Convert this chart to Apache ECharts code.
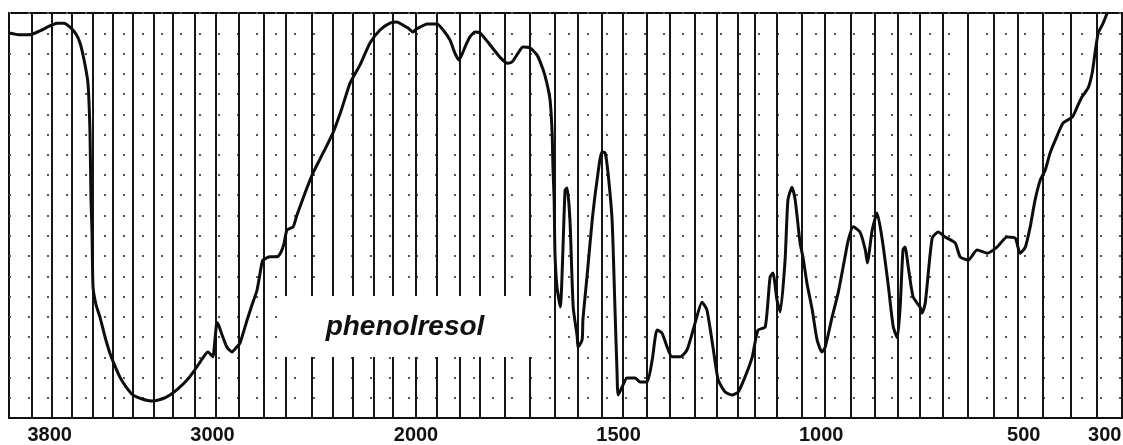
<!DOCTYPE html>
<html>
<head>
<meta charset="utf-8">
<script src="https://cdn.jsdelivr.net/npm/echarts@6/dist/echarts.min.js"></script>
<style>
html, body { margin: 0; padding: 0; background: #fff; }
#chart { width: 1123px; height: 445px; }
</style>
</head>
<body>
<div id="chart"></div>
<script>
// IR spectrum: wavenumber (cm-1) and transmittance (%)
const wavenumbers = [
    4000, 3946, 3897, 3848, 3799, 3764, 3730, 3700, 3671, 3651, 3631, 3612, 3602, 3597, 3592, 3587,
    3572, 3553, 3528, 3504, 3479, 3455, 3425, 3391, 3346, 3297, 3248, 3209, 3170, 3125, 3091, 3061,
    3037, 3022, 3007, 2998, 2988, 2978, 2968, 2948, 2929, 2904, 2885, 2865, 2830, 2806, 2781, 2762,
    2752, 2717, 2683, 2663, 2649, 2634, 2604, 2585, 2545, 2506, 2457, 2408, 2364, 2324, 2275, 2226,
    2177, 2128, 2093, 2064, 2039, 2015, 2000, 1990, 1973, 1948, 1933, 1916, 1904, 1894, 1879, 1867,
    1854, 1842, 1817, 1793, 1775, 1763, 1748, 1736, 1719, 1701, 1686, 1677, 1669, 1664, 1662, 1659,
    1657, 1652, 1644, 1632, 1627, 1620, 1612, 1602, 1600, 1590, 1588, 1578, 1565, 1553, 1541, 1533,
    1526, 1516, 1509, 1504, 1501, 1491, 1479, 1459, 1447, 1430, 1417, 1405, 1393, 1380, 1368, 1348,
    1331, 1311, 1294, 1282, 1267, 1254, 1237, 1220, 1205, 1188, 1170, 1156, 1138, 1126, 1119, 1109,
    1101, 1089, 1082, 1072, 1064, 1052, 1045, 1035, 1022, 1010, 998, 990, 973, 958, 941, 933,
    921, 904, 891, 886, 874, 862, 849, 835, 822, 812, 805, 798, 793, 785, 773, 756,
    751, 743, 726, 711, 694, 669, 657, 637, 615, 590, 566, 541, 521, 509, 496, 484,
    472, 459, 447, 435, 422, 403, 380, 368, 356, 341, 331, 324, 316, 304, 294
]
const transmittance = [
    95.1, 94.6, 94.6, 95.6, 96.8, 97.5, 97.5, 96.5, 94.8, 92.6, 88.4, 82.7, 70.4, 53.8, 45.7, 32.3,
    27.9, 24.9, 20.0, 16.0, 12.8, 10.1, 7.7, 5.7, 4.7, 4.2, 4.7, 5.7, 7.2, 9.4, 11.6, 13.8,
    15.6, 16.3, 15.6, 15.1, 19.3, 23.5, 22.7, 19.8, 17.5, 16.3, 17.3, 18.5, 24.2, 27.9, 31.6, 37.0,
    39.0, 39.8, 39.8, 41.0, 43.0, 46.4, 47.2, 50.1, 55.6, 60.5, 65.4, 70.4, 76.5, 82.7, 87.2, 92.6,
    95.8, 97.5, 97.8, 97.0, 96.3, 95.3, 96.0, 96.5, 97.3, 97.3, 95.8, 93.3, 90.1, 88.4, 91.6, 94.1,
    95.3, 95.1, 92.1, 89.1, 87.6, 87.9, 90.1, 91.6, 91.4, 89.6, 85.9, 82.7, 78.5, 70.4, 62.0, 53.8,
    40.7, 32.3, 27.4, 56.3, 56.8, 48.9, 27.4, 20.0, 17.5, 19.3, 24.2, 34.8, 48.9, 58.8, 65.7, 65.4,
    60.5, 48.9, 27.4, 11.9, 5.7, 7.7, 9.9, 9.9, 8.9, 8.9, 14.3, 21.7, 21.0, 17.5, 15.1, 15.1,
    16.8, 23.5, 28.6, 26.7, 17.5, 9.4, 6.4, 5.7, 6.4, 10.1, 15.1, 21.7, 22.5, 34.8, 35.8, 29.1,
    26.2, 39.0, 53.8, 57.0, 53.8, 43.2, 39.8, 33.3, 26.7, 19.3, 16.3, 17.5, 24.9, 30.9, 39.8, 43.9,
    47.2, 45.9, 41.5, 38.3, 46.4, 50.6, 43.9, 33.3, 22.5, 19.8, 27.4, 41.5, 42.2, 37.3, 29.9, 27.4,
    25.9, 28.4, 44.4, 45.9, 44.7, 43.2, 39.8, 39.0, 41.5, 40.7, 42.2, 44.7, 44.4, 40.7, 42.2, 47.2,
    53.8, 58.8, 61.2, 65.4, 68.6, 72.8, 74.3, 76.8, 79.3, 81.5, 85.2, 90.1, 95.1, 97.5, 100
]

// chart paper: the vertical ruled lines (in cm-1) and the printed tick labels
const paperLinesHigh = [3890, 3790, 3690, 3590, 3490, 3390, 3290, 3195, 3085, 2985, 2870, 2750, 2640, 2510, 2410, 2310, 2210, 2115, 2000]
const paperLinesLow = [1948, 1891, 1842, 1780, 1719, 1657, 1600, 1541, 1489, 1430, 1373, 1311, 1257, 1205, 1163, 1109, 1047, 990, 928, 867, 812, 756, 699, 637, 575, 514, 452, 385, 319, 257]
const labelsHigh = [3800, 3000]
const labelsLow = [2000, 1500, 1000, 500, 300]
const sampleName = 'phenolresol'

const points = wavenumbers.map((w, i) => [w, transmittance[i]])
const pointsHigh = points.filter(p => p[0] >= 2000)
const pointsLow = points.filter(p => p[0] <= 2000)

const chartInstance = echarts.init(document.getElementById('chart'))

function xAxisFor(gridIndex, min, max, labels) {
    return {
        type: 'value',
        gridIndex: gridIndex,
        min: min,
        max: max,
        inverse: true,
        axisLine: { show: true, onZero: false, lineStyle: { color: '#111', width: 2 } },
        axisTick: { show: false },
        splitLine: { show: false },
        axisLabel: {
            customValues: labels,
            formatter: value => String(value),
            color: '#111',
            fontSize: 20,
            fontWeight: 'bold',
            fontFamily: 'Liberation Sans',
            margin: 7
        }
    }
}

function yAxisFor(gridIndex) {
    return {
        type: 'value',
        gridIndex: gridIndex,
        min: 0,
        max: 100,
        interval: 5,
        axisLine: { show: false },
        axisTick: { show: false },
        axisLabel: { show: false },
        splitLine: {
            show: true,
            lineStyle: { color: '#555', width: 2, type: [2, 17] }
        }
    }
}

function paperSeries(index, lines) {
    return {
        type: 'line',
        xAxisIndex: index,
        yAxisIndex: index,
        data: [],
        z: 1,
        silent: true,
        markLine: {
            z: 1,
            symbol: ['none', 'none'],
            silent: true,
            animation: false,
            label: { show: false },
            lineStyle: { color: '#161616', width: 2, type: 'solid' },
            data: lines.map(v => ({ xAxis: v }))
        }
    }
}

function traceSeries(index, data) {
    return {
        type: 'line',
        xAxisIndex: index,
        yAxisIndex: index,
        data: data,
        z: 6,
        showSymbol: false,
        smooth: 0.2,
        lineStyle: { color: '#0d0d0d', width: 3 }
    }
}

const option = {
    animation: false,
    backgroundColor: '#fff',
    grid: [
        { left: 9, top: 13, width: 407, height: 405, show: true, borderColor: '#111', borderWidth: 2, outerBoundsMode: 'none' },
        { left: 416, top: 13, width: 709, height: 405, show: true, borderColor: '#111', borderWidth: 2, outerBoundsMode: 'none' }
    ],
    xAxis: [
        xAxisFor(0, 2000, 4000, labelsHigh),
        xAxisFor(1, 250, 2000, labelsLow)
    ],
    yAxis: [yAxisFor(0), yAxisFor(1)],
    series: [
        paperSeries(0, paperLinesHigh),
        paperSeries(1, paperLinesLow),
        traceSeries(0, pointsHigh),
        traceSeries(1, pointsLow)
    ],
    graphic: {
        z: 3,
        elements: [
            {
                type: 'rect',
                z: 3,
                shape: { x: 280, y: 296, width: 260, height: 61 },
                style: { fill: '#fff' }
            },
            {
                type: 'text',
                z: 4,
                style: {
                    text: sampleName,
                    x: 405,
                    y: 327,
                    textAlign: 'center',
                    textVerticalAlign: 'middle',
                    font: 'italic bold 28px "Liberation Sans"',
                    fill: '#111'
                }
            }
        ]
    }
}

chartInstance.setOption(option)
</script>
</body>
</html>
